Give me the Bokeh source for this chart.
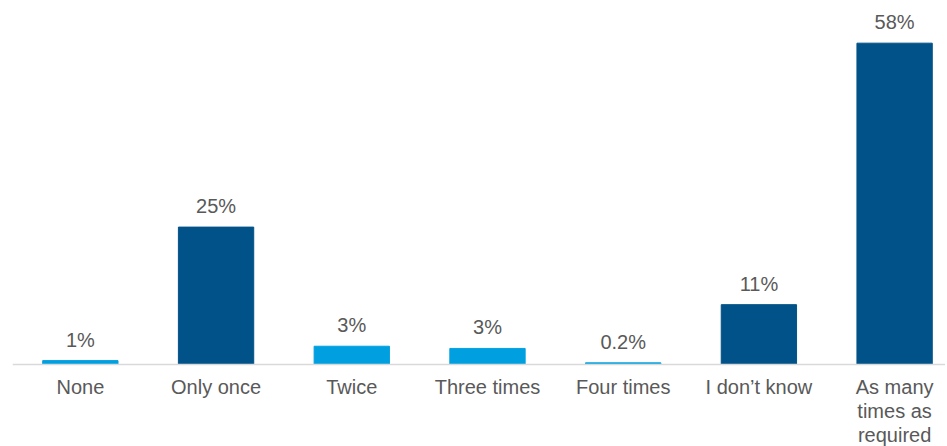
from bokeh.plotting import figure
from bokeh.models import ColumnDataSource, Range1d, Span
from bokeh.embed import file_html
from bokeh.resources import INLINE
from bokeh.core.properties import value

categories = ["None", "Only once", "Twice", "Three times", "Four times", "I don\u2019t know",
              "As many\ntimes as\nrequired"]
values = [0.7, 24.8, 3.3, 2.9, 0.3, 10.8, 58]
value_labels = ["1%", "25%", "3%", "3%", "0.2%", "11%", "58%"]
colors = ["#00A0E0", "#005288", "#00A0E0", "#00A0E0", "#00A0E0", "#005288", "#005288"]

x = list(range(len(categories)))
src = ColumnDataSource(dict(x=x, top=values, lab=value_labels, color=colors,
                            cat=categories, zero=[0] * len(x)))

FONT = "Liberation Sans"
TXT = "#595959"

p = figure(width=945, height=446, output_backend="svg", toolbar_location=None,
           x_range=Range1d(-0.5, 6.375), y_range=Range1d(-14.8, 65.7),
           min_border_left=12, min_border_right=0, min_border_top=0, min_border_bottom=0)
p.outline_line_color = None
p.grid.visible = False
p.axis.visible = False

p.add_layout(Span(location=0, dimension="width", line_color="#D9D9D9", line_width=1.5))

p.vbar(x="x", top="top", width=0.555, color="color", source=src)
p.text(x="x", y="top", text="lab", source=src, text_align="center", text_baseline="bottom",
       y_offset=-10, text_font=value(FONT), text_font_size="20px", text_color=TXT)
p.text(x="x", y="zero", text="cat", source=src, text_align="center", text_baseline="top",
       y_offset=11, text_font=value(FONT), text_font_size="20px", text_color=TXT,
       text_line_height=1.1)

open("out.html", "w").write(file_html(p, INLINE))
